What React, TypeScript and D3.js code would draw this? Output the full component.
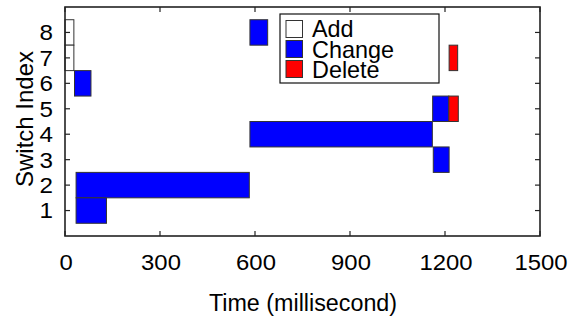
import React from "react";
import * as d3 from "d3";

// Switch update timeline: each bar spans [start, end] ms on one switch row
const addSwitch = [8, 7];
const addStart = [0, 0];
const addEnd = [28, 28];

const changeSwitch = [6, 2, 1, 8, 4, 5, 3];
const changeStart = [30, 35, 35, 584, 584, 1161, 1163];
const changeEnd = [82, 582, 131, 640, 1160, 1212, 1213];

const deleteSwitch = [5, 7];
const deleteStart = [1212, 1213];
const deleteEnd = [1242, 1240];

const xTicks = [0, 300, 600, 900, 1200, 1500];
const yTicks = [1, 2, 3, 4, 5, 6, 7, 8];

const legendLabels = ["Add", "Change", "Delete"];
const legendColors = ["#ffffff", "#0000ff", "#ff0000"];

const W = 571;
const H = 320;
const m = { left: 65, right: 540, top: 7, bottom: 236 };
const FONT = "Liberation Sans, Arial, Helvetica, sans-serif";
const AXIS = "#222";

export default function App() {
  const x = d3.scaleLinear().domain([0, 1500]).range([m.left, m.right]);
  const y = d3.scaleLinear().domain([0, 9]).range([m.bottom, m.top]);

  const series = [
    { sw: addSwitch, s: addStart, e: addEnd, color: legendColors[0] },
    { sw: changeSwitch, s: changeStart, e: changeEnd, color: legendColors[1] },
    { sw: deleteSwitch, s: deleteStart, e: deleteEnd, color: legendColors[2] },
  ];

  const tickLen = 5;

  return (
    <svg
      width={W}
      height={H}
      style={{ position: "absolute", left: 0, top: 0, background: "#fff" }}
      fontFamily={FONT}
    >
      {series.map((ser, si) =>
        ser.sw.map((sw, i) => (
          <rect
            key={`${si}-${i}`}
            x={x(ser.s[i])}
            y={y(sw + 0.5)}
            width={x(ser.e[i]) - x(ser.s[i])}
            height={y(sw - 0.5) - y(sw + 0.5)}
            fill={ser.color}
            stroke="#333"
            strokeWidth={1}
          />
        ))
      )}

      {/* ticks, drawn inward on all four sides */}
      {xTicks.map((t) => (
        <g key={`xt${t}`}>
          <line x1={x(t)} x2={x(t)} y1={m.bottom} y2={m.bottom - tickLen} stroke={AXIS} strokeWidth={1.2} />
          <line x1={x(t)} x2={x(t)} y1={m.top} y2={m.top + tickLen} stroke={AXIS} strokeWidth={1.2} />
          <text
            transform={`translate(${x(t) + 1}, 270) scale(1.06, 1)`}
            fontSize={22.5}
            textAnchor="middle"
            fill="#000"
          >
            {t}
          </text>
        </g>
      ))}
      {yTicks.map((t) => (
        <g key={`yt${t}`}>
          <line x1={m.left} x2={m.left + tickLen} y1={y(t)} y2={y(t)} stroke={AXIS} strokeWidth={1.2} />
          <line x1={m.right} x2={m.right - tickLen} y1={y(t)} y2={y(t)} stroke={AXIS} strokeWidth={1.2} />
          <text
            transform={`translate(53, ${y(t)}) scale(1.1, 1)`}
            dy="0.36em"
            fontSize={22}
            textAnchor="end"
            fill="#000"
          >
            {t}
          </text>
        </g>
      ))}

      <rect
        x={m.left}
        y={m.top}
        width={m.right - m.left}
        height={m.bottom - m.top}
        fill="none"
        stroke={AXIS}
        strokeWidth={1.6}
      />

      <text x={303} y={311} fontSize={23.3} textAnchor="middle" fill="#000">
        Time (millisecond)
      </text>
      <text
        transform={`translate(32.5, 119) rotate(-90)`}
        fontSize={24}
        textAnchor="middle"
        fill="#000"
      >
        Switch Index
      </text>

      {/* legend */}
      <g>
        <rect x={280} y={14} width={159} height={69} fill="#fff" stroke="#111" strokeWidth={1.2} />
        {legendLabels.map((lab, i) => (
          <g key={lab}>
            <rect
              x={286}
              y={20.5 + i * 20}
              width={16.5}
              height={17}
              fill={legendColors[i]}
              stroke="#333"
              strokeWidth={1}
            />
            <text x={312} y={37 + i * 20.5} fontSize={23.4} fill="#000">
              {lab}
            </text>
          </g>
        ))}
      </g>
    </svg>
  );
}
